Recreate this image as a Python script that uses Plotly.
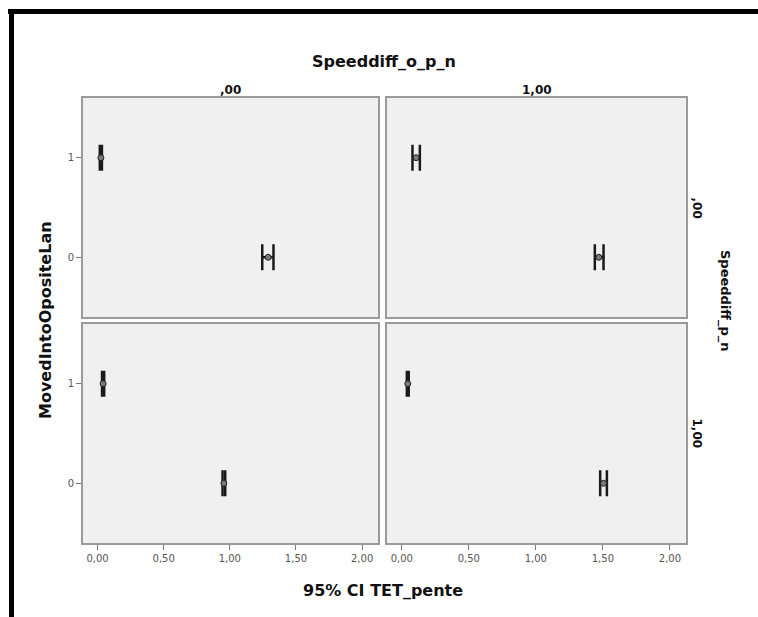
import plotly.graph_objects as go

# ---- data ----
row_cats = [1, 0]                      # MovedIntoOpositeLan
col_labels = [",00", "1,00"]           # Speeddiff_o_p_n
row_labels = [",00", "1,00"]           # Speeddiff_p_n
x_tickvals = [0, 0.5, 1.0, 1.5, 2.0]
x_ticktext = ["0,00", "0,50", "1,00", "1,50", "2,00"]

# panel (Speeddiff_p_n, Speeddiff_o_p_n) -> means for MovedIntoOpositeLan = [1, 0]
mean_p0_o0 = [0.025, 1.290]
low_p0_o0 = [0.017, 1.245]
high_p0_o0 = [0.033, 1.330]

mean_p0_o1 = [0.107, 1.470]
low_p0_o1 = [0.080, 1.440]
high_p0_o1 = [0.135, 1.505]

mean_p1_o0 = [0.042, 0.955]
low_p1_o0 = [0.034, 0.945]
high_p1_o0 = [0.050, 0.965]

mean_p1_o1 = [0.045, 1.505]
low_p1_o1 = [0.038, 1.480]
high_p1_o1 = [0.052, 1.530]

panels = [
    (0, 0, mean_p0_o0, low_p0_o0, high_p0_o0),
    (0, 1, mean_p0_o1, low_p0_o1, high_p0_o1),
    (1, 0, mean_p1_o0, low_p1_o0, high_p1_o0),
    (1, 1, mean_p1_o1, low_p1_o1, high_p1_o1),
]

# ---- layout geometry (pixels) ----
W, H = 758, 617
L, R, T, B = 83, 72, 98, 74
PW, PH = W - L - R, H - T - B

def px(xp):
    return (xp - L) / PW

def py(yp):
    return (H - B - yp) / PH

col_dom = [[px(83), px(378)], [px(387), px(686)]]
row_dom = [[py(317), py(98)], [py(543), py(324)]]

fig = go.Figure()

border = "#9a9a9a"
tickfont = dict(family="DejaVu Sans", size=10, color="#555555")

for (r, c, mean, low, high) in panels:
    idx = r * 2 + c + 1
    xa = "x" if idx == 1 else f"x{idx}"
    ya = "y" if idx == 1 else f"y{idx}"
    plus = [h - m for h, m in zip(high, mean)]
    minus = [m - l for m, l in zip(mean, low)]
    fig.add_trace(go.Scatter(
        x=mean, y=row_cats, mode="markers", xaxis=xa, yaxis=ya,
        marker=dict(symbol="circle", size=6, color="#7a7a7a",
                    line=dict(color="#222222", width=1)),
        error_x=dict(type="data", array=plus, arrayminus=minus,
                     symmetric=False, color="#1a1a1a", thickness=2.5, width=13),
        showlegend=False, hoverinfo="skip",
    ))
    xname = "xaxis" if idx == 1 else f"xaxis{idx}"
    yname = "yaxis" if idx == 1 else f"yaxis{idx}"
    bottom = (r == 1)
    left = (c == 0)
    fig.layout[xname] = dict(
        domain=col_dom[c], anchor=ya, range=[-0.11, 2.12],
        showgrid=False, zeroline=False, showline=True, mirror=True,
        linecolor=border, linewidth=2,
        tickvals=x_tickvals, ticktext=x_ticktext,
        showticklabels=bottom, ticks="outside" if bottom else "",
        ticklen=5, tickcolor="#777777", tickfont=tickfont,
    )
    fig.layout[yname] = dict(
        domain=row_dom[r], anchor=xa, range=[-0.6, 1.6],
        showgrid=False, zeroline=False, showline=True, mirror=True,
        linecolor=border, linewidth=2,
        tickvals=[1, 0], ticktext=["1", "0"],
        showticklabels=left, ticks="outside" if left else "",
        ticklen=5, tickcolor="#777777", tickfont=tickfont,
    )

titlefont = dict(family="DejaVu Sans", size=16, color="#111111", weight="bold")
ytitlefont = dict(family="DejaVu Sans", size=16, color="#111111", weight="bold")
rtitlefont = dict(family="DejaVu Sans", size=13, color="#111111", weight="bold")
stripfont = dict(family="DejaVu Sans", size=12, color="#111111", weight="bold")

ann = []
ann.append(dict(text="Speeddiff_o_p_n", x=px(384), y=py(62), xref="paper", yref="paper",
                showarrow=False, font=titlefont, xanchor="center", yanchor="middle"))
for c, lab in enumerate(col_labels):
    ann.append(dict(text=lab, x=(col_dom[c][0] + col_dom[c][1]) / 2, y=py(90),
                    xref="paper", yref="paper", showarrow=False, font=stripfont,
                    xanchor="center", yanchor="middle"))
for r, lab in enumerate(row_labels):
    ann.append(dict(text=lab, x=px(697), y=(row_dom[r][0] + row_dom[r][1]) / 2,
                    xref="paper", yref="paper", showarrow=False, font=stripfont,
                    textangle=90, xanchor="center", yanchor="middle"))
ann.append(dict(text="Speeddiff_p_n", x=px(725), y=py(300), xref="paper", yref="paper",
                showarrow=False, font=rtitlefont, textangle=90,
                xanchor="center", yanchor="middle"))
ann.append(dict(text="MovedIntoOpositeLan", x=px(45), y=py(320), xref="paper", yref="paper",
                showarrow=False, font=ytitlefont, textangle=-90,
                xanchor="center", yanchor="middle"))
ann.append(dict(text="95% CI TET_pente", x=px(383), y=py(590), xref="paper", yref="paper",
                showarrow=False, font=titlefont, xanchor="center", yanchor="middle"))

shapes = [
    dict(type="rect", xref="paper", yref="paper", x0=px(8), x1=px(760), y0=py(14), y1=py(9),
         fillcolor="black", line=dict(width=0), layer="above"),
    dict(type="rect", xref="paper", yref="paper", x0=px(9), x1=px(14), y0=py(620), y1=py(9),
         fillcolor="black", line=dict(width=0), layer="above"),
]

fig.update_layout(
    width=W, height=H, margin=dict(l=L, r=R, t=T, b=B, autoexpand=False),
    paper_bgcolor="white", plot_bgcolor="#f0f0f0",
    annotations=ann, shapes=shapes,
)

fig.write_html("out.html")
